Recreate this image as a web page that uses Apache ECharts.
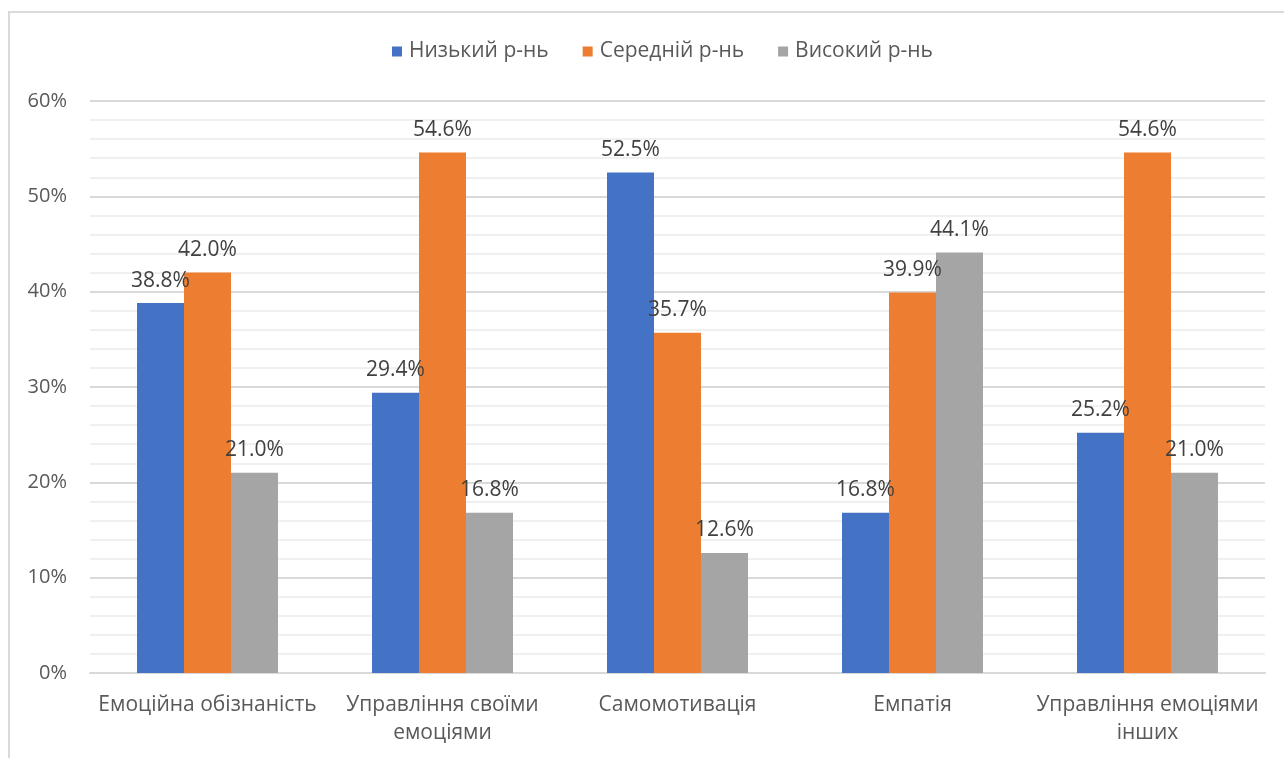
<!DOCTYPE html>
<html>
<head>
<meta charset="utf-8">
<script src="https://cdn.jsdelivr.net/npm/echarts@6/dist/echarts.min.js"></script>
<style>
  html, body { margin: 0; padding: 0; background: #ffffff; }
  #chart { width: 1284px; height: 758px; }
</style>
</head>
<body>
<div id="chart"></div>
<script>
// Рівні емоційного інтелекту за шкалами
const categories = [
  'Емоційна обізнаність',
  'Управління своїми\nемоціями',
  'Самомотивація',
  'Емпатія',
  'Управління емоціями\nінших'
];
const seriesNames = ['Низький р-нь', 'Середній р-нь', 'Високий р-нь'];
const lowLevel = [38.8, 29.4, 52.5, 16.8, 25.2];
const midLevel = [42.0, 54.6, 35.7, 39.9, 54.6];
const highLevel = [21.0, 16.8, 12.6, 44.1, 21.0];
const yTicks = [0, 10, 20, 30, 40, 50, 60];

const colors = ['#4472c4', '#ed7d31', '#a5a5a5'];
const FONT = 'Open Sans';

function barSeries(name, values, color) {
  return {
    name: name,
    type: 'bar',
    data: values,
    barGap: '0%',
    barCategoryGap: '40%',
    itemStyle: { color: color },
    label: {
      show: true,
      position: 'top',
      distance: 12,
      color: '#404040',
      fontFamily: FONT,
      fontSize: 21,
      formatter: p => p.value.toFixed(1) + '%'
    }
  };
}

const chart = echarts.init(document.getElementById('chart'));
chart.setOption({
  backgroundColor: '#ffffff',
  animation: false,
  color: colors,
  graphic: [{
    type: 'rect',
    silent: true,
    shape: { x: 9, y: 12, width: 1400, height: 900 },
    style: { fill: 'none', stroke: '#d9d9d9', lineWidth: 2 }
  }],
  legend: {
    top: 36,
    left: 387,
    itemWidth: 10,
    itemHeight: 10,
    itemGap: 34,
    icon: 'rect',
    data: seriesNames,
    textStyle: { color: '#595959', fontFamily: FONT, fontSize: 21, padding: [0, 0, 0, 2] }
  },
  grid: { left: 90, right: 19, top: 101, bottom: 85, containLabel: false },
  xAxis: {
    type: 'category',
    data: categories,
    axisLine: { show: true, lineStyle: { color: '#d9d9d9', width: 2 } },
    axisTick: { show: false },
    axisLabel: {
      color: '#595959',
      fontFamily: FONT,
      fontSize: 21,
      margin: 18,
      lineHeight: 28,
      interval: 0,
      align: 'center'
    }
  },
  yAxis: {
    type: 'value',
    min: yTicks[0],
    max: yTicks[yTicks.length - 1],
    interval: 10,
    axisLine: { show: false },
    axisTick: { show: false },
    axisLabel: {
      color: '#595959',
      fontFamily: FONT,
      fontSize: 20,
      margin: 23,
      formatter: v => v + '%'
    },
    splitLine: { show: true, lineStyle: { color: '#d9d9d9', width: 2 } },
    minorTick: { show: false, splitNumber: 5 },
    minorSplitLine: { show: true, lineStyle: { color: '#f0f0f0', width: 2 } }
  },
  series: [
    barSeries(seriesNames[0], lowLevel, colors[0]),
    barSeries(seriesNames[1], midLevel, colors[1]),
    barSeries(seriesNames[2], highLevel, colors[2])
  ]
});
</script>
</body>
</html>
